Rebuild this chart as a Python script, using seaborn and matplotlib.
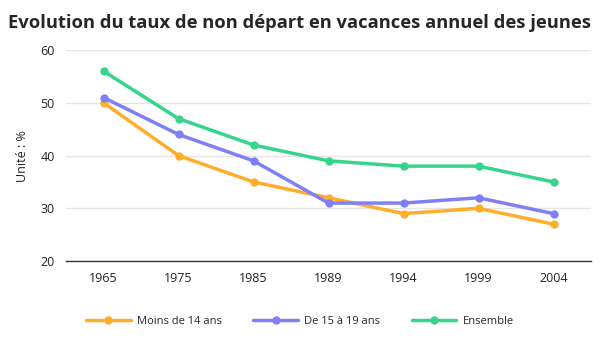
import pandas as pd
import seaborn as sns
import matplotlib.pyplot as plt

# Data
years = ['1965', '1975', '1985', '1989', '1994', '1999', '2004']
moins_14 = [50, 40, 35, 32, 29, 30, 27]
de_15_19 = [51, 44, 39, 31, 31, 32, 29]
ensemble = [56, 47, 42, 39, 38, 38, 35]

series_names = ['Moins de 14 ans', 'De 15 à 19 ans', 'Ensemble']
colors = ['#FFAE2B', '#7F7FF7', '#35D58B']

df = pd.DataFrame({
    'annee': years * 3,
    'valeur': moins_14 + de_15_19 + ensemble,
    'serie': [series_names[0]] * 7 + [series_names[1]] * 7 + [series_names[2]] * 7,
})

sns.set_style('white')
plt.rcParams['font.family'] = ['Open Sans', 'DejaVu Sans']

fig = plt.figure(figsize=(6, 3.5), dpi=100)
ax = fig.add_axes([0.11, 0.254, 0.875, 0.603])

sns.lineplot(data=df, x='annee', y='valeur', hue='serie', palette=colors,
             marker='o', markersize=6, markeredgewidth=0, linewidth=2.5,
             sort=False, ax=ax)

ax.set_xlim(-0.5, 6.5)
ax.set_ylim(20, 60)
ax.set_yticks([20, 30, 40, 50, 60])
ax.yaxis.grid(True, color='#e6e6e6', linewidth=1)
ax.set_axisbelow(True)
for s in ['top', 'right', 'left']:
    ax.spines[s].set_visible(False)
ax.spines['bottom'].set_color('#333333')
ax.spines['bottom'].set_linewidth(1)
ax.tick_params(axis='both', length=0, labelsize=9, colors='#222222', pad=8)
ax.set_xlabel('')
ax.set_ylabel('Unité : %', fontsize=9, color='#222222', labelpad=8)

# Title
fig.text(0.5, 0.935, 'Evolution du taux de non départ en vacances annuel des jeunes',
         ha='center', va='center', fontsize=13.2, fontweight='bold')

# Legend
handles, labels = ax.get_legend_handles_labels()
ax.legend(handles, labels, loc='center', bbox_to_anchor=(0.5, 0.082),
          bbox_transform=fig.transFigure, ncol=3, frameon=False,
          fontsize=8, handlelength=4, columnspacing=2.8, handletextpad=0.6)

fig.savefig('out.png')
